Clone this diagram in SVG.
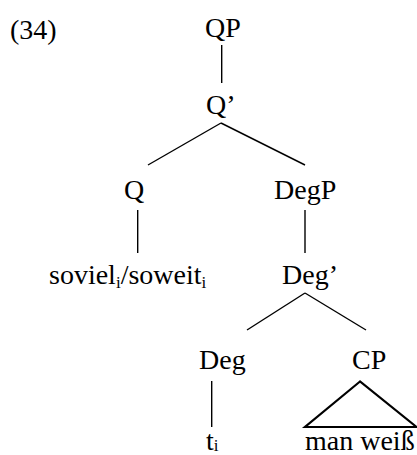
<svg xmlns="http://www.w3.org/2000/svg" width="417" height="455" viewBox="0 0 417 455">
<style>
text{font-family:'Liberation Serif','Times New Roman',Times,serif;font-size:28px;fill:#000}
.sub{font-size:17px}
.e{stroke:#000;stroke-width:1.4;fill:none}
.tri{stroke:#000;stroke-width:2.2;fill:none}
</style>
<rect width="417" height="455" fill="#fff"/>
<text id="label" x="10" y="39">(34)</text>
<g id="connectors">
<line class="e" x1="221.7" y1="45" x2="221.7" y2="83"/>
<line class="e" x1="221" y1="123" x2="148" y2="165"/>
<line class="e" x1="221" y1="123" x2="305" y2="165"/>
<line class="e" x1="137.7" y1="210" x2="137.7" y2="253"/>
<line class="e" x1="305" y1="210" x2="305" y2="253"/>
<line class="e" x1="305" y1="293" x2="247" y2="330"/>
<line class="e" x1="305" y1="293" x2="366" y2="330"/>
<line class="e" x1="211.7" y1="381" x2="211.7" y2="427"/>
<polygon class="tri" points="360,381.5 305,427 416.5,427"/>
</g>
<g id="QP"><text x="205" y="37">QP</text></g>
<g id="Qbar"><text x="206" y="114">Q’</text></g>
<g id="Q"><text x="124" y="199">Q</text></g>
<g id="DegP"><text x="274" y="199">DegP</text></g>
<g id="soviel"><text x="49" y="284">soviel<tspan class="sub" dy="4">i</tspan><tspan dy="-4">/soweit</tspan><tspan class="sub" dy="4">i</tspan></text></g>
<g id="Degbar"><text x="282" y="284">Deg’</text></g>
<g id="Deg"><text x="199" y="369">Deg</text></g>
<g id="CP"><text x="352" y="369">CP</text></g>
<g id="t"><text x="206" y="450">t<tspan class="sub" dy="1">i</tspan></text></g>
<g id="man"><text x="305" y="450">man weiß</text></g>
</svg>
